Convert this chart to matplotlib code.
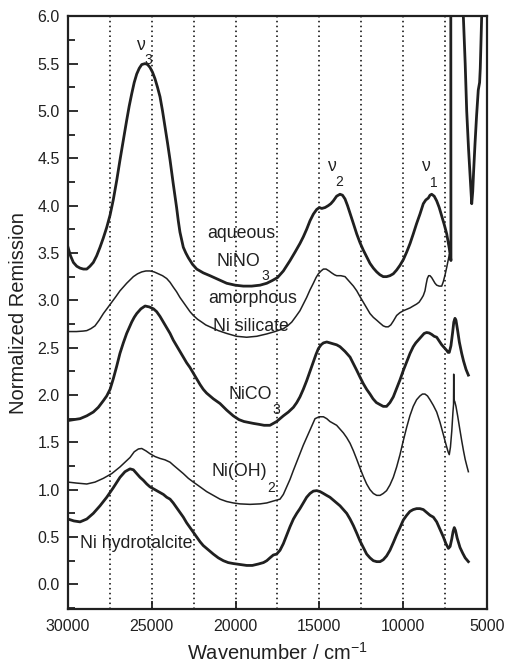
import matplotlib
matplotlib.use('Agg')
import matplotlib.pyplot as plt
from matplotlib.ticker import MultipleLocator

plt.rcParams['font.family'] = ['Liberation Sans', 'DejaVu Sans']
plt.rcParams['mathtext.default'] = 'regular'

# aqueous NiNO3 (goes off scale in the water band near 7000 cm-1)
aq_wn = [30000, 29850, 29680, 29480, 29280, 29080, 28880, 28690, 28490, 28290,
         28090, 27890, 27690, 27490, 27300, 27090, 26900, 26700, 26500, 26350,
         26200, 26050, 25900, 25750, 25600, 25400, 25250, 25110, 24960, 24810,
         24660, 24510, 24360, 24210, 24060, 23910, 23720, 23520, 23420, 23320,
         23120, 22970, 22820, 22570, 22320, 21930, 21530, 21030, 20530, 20030,
         19540, 19040, 18540, 18140, 17800, 17500, 17150, 16750, 16450, 16160,
         15960, 15760, 15560, 15360, 15160, 15000, 14860, 14660, 14470, 14320,
         14170, 13970, 13770, 13620, 13470, 13320, 13170, 12970, 12770, 12580,
         12380, 12180, 11980, 11780, 11580, 11390, 11190, 10990, 10790, 10590,
         10390, 10190, 9990, 9790, 9590, 9400, 9200, 9000, 8800, 8650,
         8500, 8400, 8300, 8150, 8000, 7850, 7700, 7550, 7400, 7250,
         7150, 7160, 6450, 6410, 6300, 6210, 6100, 6000, 5910, 5850,
         5800, 5715, 5620, 5520, 5480, 5440, 5400, 5320, 5250]
aq_val = [3.56, 3.47, 3.40, 3.36, 3.34, 3.33, 3.33, 3.36, 3.40, 3.47,
          3.56, 3.66, 3.77, 3.90, 4.06, 4.27, 4.48, 4.69, 4.90, 5.05,
          5.18, 5.30, 5.39, 5.45, 5.49, 5.50, 5.49, 5.46, 5.41, 5.34,
          5.25, 5.15, 5.00, 4.83, 4.66, 4.48, 4.23, 3.98, 3.84, 3.72,
          3.56, 3.50, 3.45, 3.38, 3.33, 3.29, 3.26, 3.22, 3.18, 3.16,
          3.15, 3.15, 3.16, 3.18, 3.21, 3.24, 3.31, 3.42, 3.51, 3.60,
          3.67, 3.75, 3.84, 3.91, 3.96, 3.98, 3.97, 3.98, 4.00, 4.02,
          4.05, 4.10, 4.12, 4.11, 4.07, 4.00, 3.92, 3.81, 3.70, 3.61,
          3.53, 3.46, 3.39, 3.34, 3.30, 3.27, 3.25, 3.25, 3.26, 3.28,
          3.32, 3.37, 3.43, 3.51, 3.60, 3.70, 3.81, 3.91, 4.02, 4.06,
          4.08, 4.11, 4.12, 4.10, 4.05, 3.98, 3.89, 3.80, 3.70, 3.55,
          3.42, 6.40, 6.40, 6.00, 5.50, 5.00, 4.60, 4.30, 4.02, 4.15,
          4.35, 4.65, 4.95, 5.22, 5.26, 5.30, 5.45, 6.00, 6.40]

# amorphous Ni silicate
am_wn = [30000, 29500, 29100, 28880, 28640, 28390, 28140, 27890, 27640, 27390,
         27140, 26900, 26500, 26100, 25850, 25600, 25350, 25110, 24860, 24610,
         24360, 24110, 23910, 23720, 23520, 23320, 23120, 22920, 22720, 22520,
         22270, 22020, 21780, 21530, 21030, 20530, 19940, 19340, 18740, 18140,
         17650, 17150, 16900, 16650, 16400, 16160, 15960, 15760, 15560, 15360,
         15200, 15060, 14900, 14760, 14600, 14420, 14270, 14100, 13970, 13720,
         13470, 13320, 13170, 12970, 12770, 12580, 12380, 12180, 11980, 11780,
         11580, 11390, 11190, 11040, 10890, 10740, 10590, 10490, 10390, 10190,
         9990, 9790, 9590, 9400, 9200, 9050, 8900, 8800, 8700, 8630,
         8560, 8480, 8400, 8300, 8200, 8100, 8000, 7850, 7700, 7600,
         7500, 7400, 7320, 7250]
am_val = [2.67, 2.67, 2.675, 2.68, 2.70, 2.73, 2.79, 2.86, 2.92, 2.98,
          3.04, 3.10, 3.18, 3.25, 3.28, 3.30, 3.31, 3.31, 3.30, 3.28,
          3.26, 3.23, 3.19, 3.14, 3.09, 3.03, 2.98, 2.93, 2.88, 2.84,
          2.80, 2.77, 2.74, 2.72, 2.68, 2.65, 2.62, 2.61, 2.62, 2.645,
          2.67, 2.70, 2.73, 2.77, 2.83, 2.89, 2.96, 3.03, 3.11, 3.18,
          3.24, 3.28, 3.31, 3.33, 3.33, 3.31, 3.29, 3.27, 3.26, 3.26,
          3.25, 3.22, 3.19, 3.15, 3.10, 3.04, 2.98, 2.92, 2.86, 2.82,
          2.79, 2.76, 2.73, 2.72, 2.72, 2.74, 2.78, 2.81, 2.84, 2.87,
          2.89, 2.905, 2.92, 2.94, 2.96, 2.98, 3.02, 3.05, 3.10, 3.17,
          3.23, 3.26, 3.26, 3.24, 3.21, 3.18, 3.16, 3.15, 3.15, 3.20,
          3.27, 3.35, 3.42, 3.48]

# NiCO3
co_wn = [30000, 29650, 29280, 28880, 28490, 28190, 27890, 27690, 27490, 27300,
         27100, 26900, 26700, 26500, 26350, 26200, 26050, 25900, 25650, 25400,
         25150, 24900, 24710, 24510, 24310, 24110, 23910, 23720, 23520, 23320,
         23120, 22920, 22720, 22520, 22320, 22120, 21930, 21730, 21330, 20930,
         20530, 20140, 19800, 19500, 18940, 18600, 18300, 17950, 17750, 17550,
         17350, 17150, 16850, 16550, 16350, 16160, 15960, 15760, 15560, 15360,
         15200, 15060, 14900, 14760, 14560, 14360, 14170, 13970, 13770, 13470,
         13170, 12970, 12770, 12580, 12380, 12180, 11980, 11800, 11600, 11400,
         11190, 10990, 10790, 10590, 10390, 10190, 9990, 9790, 9590, 9400,
         9250, 9100, 8900, 8750, 8600, 8450, 8300, 8150, 8000, 7850,
         7700, 7550, 7400, 7320, 7250, 7150, 7050, 6980, 6910, 6850,
         6750, 6650, 6510, 6400, 6250, 6110]
co_val = [1.73, 1.74, 1.75, 1.78, 1.82, 1.87, 1.94, 1.99, 2.06, 2.17,
          2.30, 2.44, 2.55, 2.65, 2.71, 2.77, 2.82, 2.86, 2.91, 2.94,
          2.93, 2.91, 2.88, 2.83, 2.77, 2.71, 2.65, 2.58, 2.52, 2.46,
          2.40, 2.34, 2.29, 2.23, 2.17, 2.11, 2.06, 2.02, 1.96, 1.91,
          1.84, 1.78, 1.74, 1.72, 1.70, 1.69, 1.68, 1.68, 1.70, 1.72,
          1.75, 1.78, 1.82, 1.87, 1.92, 1.98, 2.06, 2.15, 2.25, 2.35,
          2.43, 2.49, 2.53, 2.55, 2.56, 2.55, 2.54, 2.53, 2.51, 2.46,
          2.40, 2.33, 2.26, 2.19, 2.12, 2.06, 2.01, 1.96, 1.92, 1.90,
          1.88, 1.88, 1.92, 1.98, 2.07, 2.16, 2.26, 2.35, 2.44, 2.51,
          2.55, 2.58, 2.62, 2.65, 2.66, 2.655, 2.64, 2.62, 2.61, 2.57,
          2.53, 2.50, 2.47, 2.45, 2.45, 2.52, 2.66, 2.77, 2.81, 2.79,
          2.68, 2.56, 2.44, 2.36, 2.27, 2.21]

# Ni(OH)2
oh_wn = [30000, 29500, 28880, 28390, 27890, 27390, 26900, 26600, 26300, 26050,
         25800, 25600, 25350, 25110, 24810, 24510, 24210, 23910, 23720, 23520,
         23320, 23120, 22820, 22520, 22120, 21730, 21330, 20930, 20530, 20140,
         19740, 19140, 18540, 18140, 17750, 17350, 17150, 16950, 16750, 16560,
         16360, 16160, 15960, 15760, 15560, 15360, 15260, 15010, 14760, 14560,
         14370, 14170, 13970, 13770, 13570, 13370, 13170, 12970, 12770, 12580,
         12380, 12180, 11980, 11780, 11580, 11380, 11190, 10990, 10790, 10590,
         10390, 10190, 9990, 9790, 9600, 9400, 9200, 9000, 8850, 8700,
         8550, 8400, 8200, 8000, 7800, 7600, 7450, 7320, 7250, 7180,
         7100, 7030, 6995, 6985, 6975, 6920, 6850, 6750, 6650, 6510,
         6400, 6300, 6200, 6110]
oh_val = [1.08, 1.07, 1.06, 1.08, 1.12, 1.17, 1.24, 1.29, 1.34, 1.40,
          1.43, 1.435, 1.41, 1.38, 1.35, 1.33, 1.315, 1.29, 1.26, 1.23,
          1.20, 1.17, 1.12, 1.08, 1.03, 0.98, 0.94, 0.90, 0.875, 0.86,
          0.85, 0.845, 0.85, 0.86, 0.88, 0.90, 0.95, 1.03, 1.11, 1.20,
          1.29, 1.38, 1.47, 1.55, 1.63, 1.71, 1.75, 1.77, 1.77, 1.75,
          1.72, 1.70, 1.68, 1.64, 1.60, 1.55, 1.49, 1.41, 1.32, 1.23,
          1.14, 1.06, 1.00, 0.96, 0.94, 0.94, 0.96, 0.99, 1.05, 1.13,
          1.24, 1.37, 1.52, 1.66, 1.78, 1.88, 1.95, 1.99, 2.01, 2.01,
          1.99, 1.95, 1.89, 1.82, 1.71, 1.58, 1.48, 1.40, 1.37, 1.45,
          1.62, 1.82, 1.90, 2.22, 1.95, 1.93, 1.88, 1.78, 1.67, 1.52,
          1.41, 1.32, 1.25, 1.19]

# Ni hydrotalcite
ht_wn = [30000, 29650, 29280, 28880, 28490, 28090, 27690, 27300, 26900, 26600,
         26300, 26100, 25900, 25700, 25510, 25300, 25110, 24910, 24710, 24510,
         24310, 24110, 23910, 23720, 23520, 23320, 23120, 22920, 22720, 22520,
         22320, 22120, 21930, 21730, 21530, 21330, 21030, 20730, 20440, 20140,
         19740, 19340, 19000, 18640, 18340, 18140, 17950, 17750, 17550, 17350,
         17150, 16950, 16750, 16550, 16350, 16160, 15960, 15760, 15560, 15360,
         15160, 14960, 14760, 14570, 14370, 14170, 13970, 13770, 13570, 13370,
         13170, 12970, 12770, 12580, 12380, 12180, 11980, 11780, 11580, 11380,
         11190, 10990, 10790, 10590, 10400, 10190, 9990, 9790, 9600, 9400,
         9200, 9000, 8800, 8600, 8400, 8200, 8000, 7800, 7600, 7450,
         7300, 7200, 7100, 7020, 6950, 6880, 6780, 6610, 6450, 6300,
         6110]
ht_val = [0.69, 0.67, 0.66, 0.69, 0.75, 0.83, 0.92, 1.02, 1.13, 1.19,
          1.22, 1.21, 1.17, 1.13, 1.10, 1.06, 1.03, 1.01, 0.99, 0.97,
          0.95, 0.92, 0.90, 0.86, 0.81, 0.76, 0.71, 0.65, 0.60, 0.55,
          0.50, 0.45, 0.41, 0.38, 0.35, 0.32, 0.28, 0.25, 0.23, 0.22,
          0.21, 0.20, 0.20, 0.215, 0.23, 0.25, 0.28, 0.31, 0.32, 0.36,
          0.43, 0.52, 0.61, 0.69, 0.75, 0.80, 0.86, 0.92, 0.96, 0.985,
          0.99, 0.98, 0.96, 0.94, 0.92, 0.89, 0.86, 0.83, 0.79, 0.75,
          0.69, 0.62, 0.54, 0.46, 0.39, 0.32, 0.28, 0.25, 0.24, 0.24,
          0.26, 0.30, 0.36, 0.44, 0.52, 0.60, 0.68, 0.73, 0.77, 0.79,
          0.80, 0.80, 0.79, 0.76, 0.73, 0.71, 0.66, 0.58, 0.50, 0.43,
          0.38, 0.40, 0.48, 0.56, 0.60, 0.57, 0.49, 0.39, 0.33, 0.28,
          0.24]

grid_wn = [27500, 25000, 22500, 20000, 17500, 15000, 12500, 10000, 7500]

fig = plt.figure(figsize=(5.06, 6.66), dpi=100)
ax = fig.add_axes([0.1344, 0.0856, 0.828, 0.890])

for g in grid_wn:
    ax.axvline(g, color='black', lw=1.1, ls=(0, (1, 2.2)), zorder=1)

thick = 2.0
thin = 1.1
lc = '#202020'
ax.plot(aq_wn, aq_val, color=lc, lw=thick, solid_joinstyle='round', zorder=3)
ax.plot(am_wn, am_val, color=lc, lw=thin, solid_joinstyle='round', zorder=3)
ax.plot(co_wn, co_val, color=lc, lw=thick, solid_joinstyle='round', zorder=3)
ax.plot(oh_wn, oh_val, color=lc, lw=thin, solid_joinstyle='round', zorder=3)
ax.plot(ht_wn, ht_val, color=lc, lw=thick, solid_joinstyle='round', zorder=3)

ax.set_xlim(30000, 5000)
ax.set_ylim(-0.26, 6.0)
ax.xaxis.set_major_locator(MultipleLocator(5000))
ax.yaxis.set_major_locator(MultipleLocator(0.5))
ax.yaxis.set_minor_locator(MultipleLocator(0.25))
ax.tick_params(axis='both', which='both', direction='in', top=False, right=False,
               width=1.3, labelsize=11.5, colors=lc)
ax.tick_params(axis='y', which='major', length=7, pad=6)
ax.tick_params(axis='y', which='minor', length=5)
ax.tick_params(axis='x', which='major', length=6, pad=7)
ax.set_yticks([0.0, 0.5, 1.0, 1.5, 2.0, 2.5, 3.0, 3.5, 4.0, 4.5, 5.0, 5.5, 6.0])
ax.set_yticklabels(['0.0', '0.5', '1.0', '1.5', '2.0', '2.5', '3.0', '3.5',
                    '4.0', '4.5', '5.0', '5.5', '6.0'])
ax.set_xticks([30000, 25000, 20000, 15000, 10000, 5000])
ax.set_xticklabels(['30000', '25000', '20000', '15000', '10000', '5000'])
for s in ax.spines.values():
    s.set_linewidth(1.6)
    s.set_color(lc)

ax.set_xlabel('Wavenumber / cm$^{-1}$', fontsize=14.5, labelpad=6, color=lc)
ax.set_ylabel('Normalized Remission', fontsize=14.5, labelpad=7, color=lc)

fs = 12.8
sub = 10
# band labels
ax.text(25704, 5.69, 'ν', fontsize=fs, ha='center', va='center', color=lc)
ax.text(25208, 5.54, '3', fontsize=sub, ha='center', va='center', color=lc)
ax.text(14268, 4.41, 'ν', fontsize=fs, ha='center', va='center', color=lc)
ax.text(13810, 4.25, '2', fontsize=sub, ha='center', va='center', color=lc)
ax.text(8698, 4.41, 'ν', fontsize=fs, ha='center', va='center', color=lc)
ax.text(8201, 4.24, '1', fontsize=sub, ha='center', va='center', color=lc)

# sample labels
ax.text(19636, 3.71, 'aqueous', fontsize=fs, ha='center', va='center', color=lc, zorder=4)
ax.text(19838, 3.41, 'NiNO', fontsize=fs, ha='center', va='center', color=lc, zorder=4)
ax.text(18245, 3.26, '3', fontsize=sub, ha='center', va='center', color=lc, zorder=4)
ax.text(18990, 3.02, 'amorphous', fontsize=fs, ha='center', va='center', color=lc, zorder=4)
ax.text(19080, 2.72, 'Ni silicate', fontsize=fs, ha='center', va='center', color=lc, zorder=4)
ax.text(19140, 2.00, 'NiCO', fontsize=fs, ha='center', va='center', color=lc, zorder=4)
ax.text(17547, 1.84, '3', fontsize=sub, ha='center', va='center', color=lc, zorder=4)
ax.text(19790, 1.19, 'Ni(OH)', fontsize=fs, ha='center', va='center', color=lc, zorder=4)
ax.text(17905, 1.02, '2', fontsize=sub, ha='center', va='center', color=lc, zorder=4)
ax.text(25905, 0.43, 'Ni hydrotalcite', fontsize=fs, ha='center', va='center', color=lc, zorder=4)

fig.savefig('out.png', dpi=100)
